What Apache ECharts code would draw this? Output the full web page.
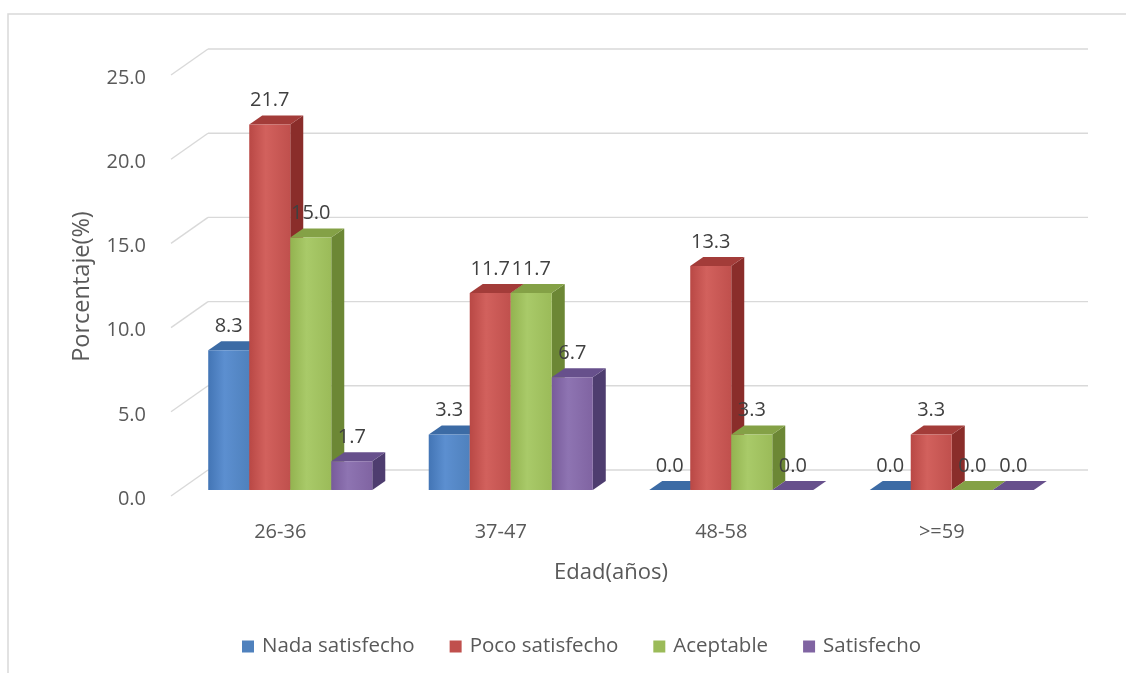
<!DOCTYPE html>
<html>
<head>
<meta charset="utf-8">
<script src="https://cdn.jsdelivr.net/npm/echarts@6/dist/echarts.min.js"></script>
<style>
html,body{margin:0;padding:0;background:#fff;}
#chart{width:1126px;height:673px;}
</style>
</head>
<body>
<div id="chart"></div>
<script>
// ---- data ----
const categories = ['26-36', '37-47', '48-58', '>=59'];
const seriesNames = ['Nada satisfecho', 'Poco satisfecho', 'Aceptable', 'Satisfecho'];
const nadaSatisfecho = [8.3, 3.3, 0.0, 0.0];
const pocoSatisfecho = [21.7, 11.7, 13.3, 3.3];
const aceptable = [15.0, 11.7, 3.3, 0.0];
const satisfecho = [1.7, 6.7, 0.0, 0.0];
const yTicks = [0, 5, 10, 15, 20, 25];
const yTitle = 'Porcentaje(%)';
const xTitle = 'Edad(años)';

const seriesValues = [nadaSatisfecho, pocoSatisfecho, aceptable, satisfecho];

// ---- styles ----
const FONT = "'Open Sans', sans-serif";
const palette = [
  {base: '#4F81BD', left: '#4375B5', light: '#5C8FD0', side: '#34598A', top: '#3C6BA5'},
  {base: '#C0504D', left: '#B94845', light: '#D2615D', side: '#8A2D2A', top: '#A33C39'},
  {base: '#9BBB59', left: '#93B350', light: '#A9CA69', side: '#6C8735', top: '#84A146'},
  {base: '#8064A2', left: '#785B9B', light: '#8E74B2', side: '#4E3D6F', top: '#67508C'}
];
const DEPTH_X = 13, DEPTH_Y = -9;       // bar depth
const BACK_X = 28, BACK_Y = -20;        // back wall offset from bar front plane
const SIDE_X = -9, SIDE_Y = 6;          // left wall front edge offset
const BAR_RATIO = 0.186;

function barGeom(api, sIdx) {
  const cat = api.value(0), v = api.value(1);
  const top = api.coord([cat, v]);
  const base = api.coord([cat, 0]);
  const band = api.size([1, 0])[0];
  const bw = band * BAR_RATIO;
  const x0 = top[0] - 2 * bw + sIdx * bw;
  return {x0: x0, x1: x0 + bw, yt: top[1], yb: base[1], bw: bw, v: v};
}

function makeBarRender(sIdx) {
  const c = palette[sIdx];
  return function (params, api) {
    const g = barGeom(api, sIdx);
    const children = [];
    const h = g.yb - g.yt;
    if (h > 0.5) {
      children.push({
        type: 'polygon',
        shape: {points: [[g.x1, g.yt], [g.x1 + DEPTH_X, g.yt + DEPTH_Y], [g.x1 + DEPTH_X, g.yb + DEPTH_Y], [g.x1, g.yb]]},
        style: {fill: c.side}
      });
    }
    children.push({
      type: 'polygon',
      shape: {points: [[g.x0, g.yt], [g.x1, g.yt], [g.x1 + DEPTH_X, g.yt + DEPTH_Y], [g.x0 + DEPTH_X, g.yt + DEPTH_Y]]},
      style: {fill: c.top}
    });
    if (h > 0.5) {
      children.push({
        type: 'rect',
        shape: {x: g.x0, y: g.yt, width: g.bw, height: h},
        style: {
          fill: new echarts.graphic.LinearGradient(0, 0, 1, 0, [
            {offset: 0, color: c.left},
            {offset: 0.4, color: c.light},
            {offset: 1, color: c.base}
          ])
        }
      });
    }
    return {type: 'group', children: children};
  };
}

function labelRender(params, api) {
  const sIdx = api.value(2);
  const g = barGeom(api, sIdx);
  return {
    type: 'text',
    style: {
      text: g.v.toFixed(1),
      x: g.x0 + g.bw / 2,
      y: g.yt - 24,
      align: 'center',
      verticalAlign: 'middle',
      font: '20px ' + FONT,
      fill: '#404040'
    }
  };
}

function wallRender(params, api) {
  const cs = params.coordSys;
  const y = api.coord([0, api.value(1)])[1];
  const bx = cs.x + BACK_X, by = y + BACK_Y;
  const style = {stroke: '#D9D9D9', lineWidth: 1.4};
  return {
    type: 'group',
    children: [
      {type: 'line', shape: {x1: bx, y1: by, x2: cs.x + cs.width + BACK_X - 2, y2: by}, style: style},
      {type: 'line', shape: {x1: bx, y1: by, x2: cs.x + SIDE_X, y2: y + SIDE_Y}, style: style}
    ]
  };
}

const labelData = [];
seriesValues.forEach(function (vals, s) {
  vals.forEach(function (v, i) { labelData.push([i, v, s]); });
});

const series = [{
  type: 'custom',
  name: 'walls',
  z: 1,
  silent: true,
  renderItem: wallRender,
  data: yTicks.map(function (t) { return [0, t]; }),
  encode: {x: 0, y: 1}
}, {
  type: 'custom',
  name: 'labels',
  z: 5,
  silent: true,
  renderItem: labelRender,
  data: labelData,
  encode: {x: 0, y: 1}
}];
seriesNames.forEach(function (name, s) {
  series.push({
    type: 'custom',
    name: name,
    z: 3,
    itemStyle: {color: palette[s].base},
    renderItem: makeBarRender(s),
    data: seriesValues[s].map(function (v, i) { return [i, v]; }),
    encode: {x: 0, y: 1}
  });
});

const chart = echarts.init(document.getElementById('chart'), null, {renderer: 'canvas'});
chart.setOption({
  animation: false,
  backgroundColor: '#fff',
  graphic: [{
    type: 'rect',
    shape: {x: 8, y: 14, width: 1140, height: 700},
    style: {fill: 'none', stroke: '#D9D9D9', lineWidth: 1.5},
    silent: true
  }],
  grid: {left: 180, right: 64, top: 69, bottom: 183},
  legend: {
    data: seriesNames,
    left: 242,
    top: 636,
    padding: 0,
    icon: 'rect',
    itemWidth: 12,
    itemHeight: 12,
    itemGap: 35,
    selectedMode: false,
    textStyle: {fontSize: 20.5, color: '#595959', fontFamily: FONT, padding: [0, 0, 0, 3]}
  },
  xAxis: {
    type: 'category',
    data: categories,
    name: xTitle,
    nameLocation: 'middle',
    nameGap: 72,
    nameTextStyle: {fontSize: 22, color: '#595959', fontFamily: FONT, padding: [0, 20, 0, 0]},
    axisLine: {show: false},
    axisTick: {show: false},
    axisLabel: {fontSize: 20, color: '#595959', fontFamily: FONT, margin: 32, padding: [0, 20, 0, 0]},
    splitLine: {show: false}
  },
  yAxis: {
    type: 'value',
    min: 0,
    max: 25,
    interval: 5,
    name: yTitle,
    nameLocation: 'middle',
    nameGap: 86,
    nameTextStyle: {fontSize: 23.5, color: '#595959', fontFamily: FONT, padding: [0, 14, 0, 0]},
    axisLine: {show: false},
    axisTick: {show: false},
    splitLine: {show: false},
    axisLabel: {
      fontSize: 20, color: '#595959', fontFamily: FONT, margin: 34,
      verticalAlign: 'top', lineHeight: 18,
      formatter: function (v) { return v.toFixed(1); }
    }
  },
  series: series
});
</script>
</body>
</html>
